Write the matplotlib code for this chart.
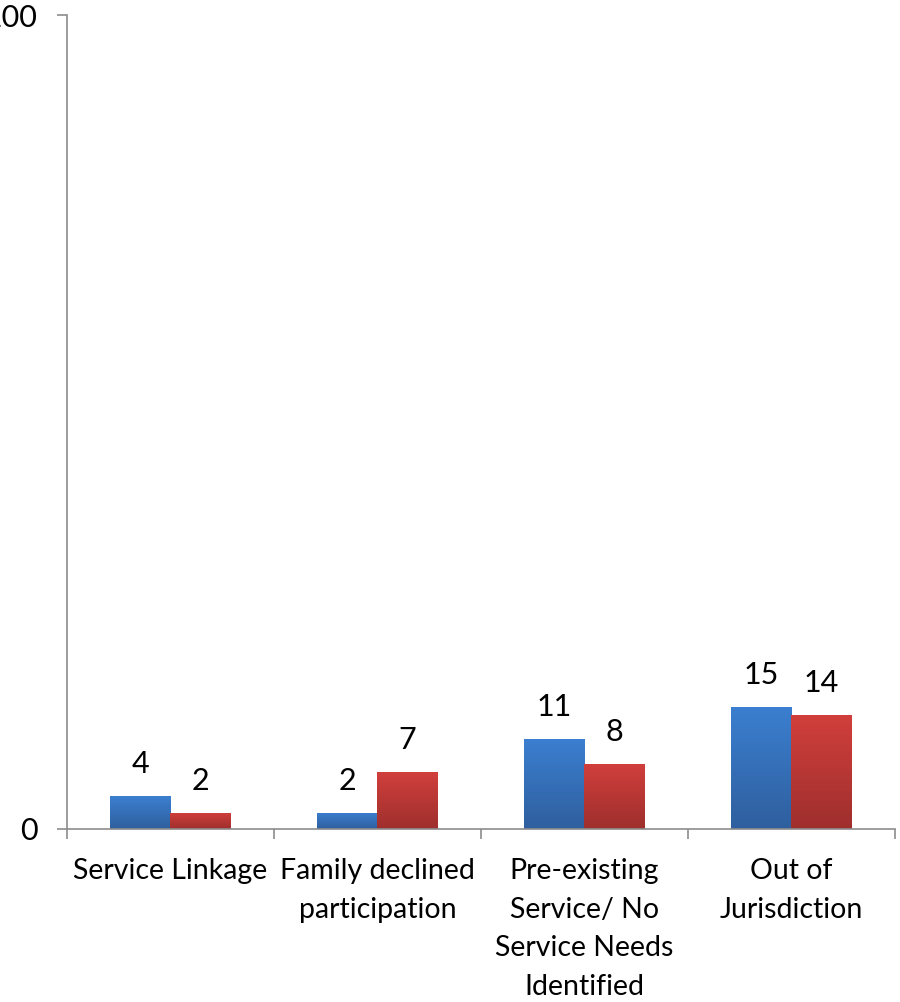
import numpy as np
from matplotlib import pyplot as plt
from matplotlib.colors import LinearSegmentedColormap

categories = ['Service Linkage', 'Family declined\nparticipation',
              'Pre-existing\nService/ No\nService Needs\nIdentified',
              'Out of\nJurisdiction']
series_a = [4, 2, 11, 15]
series_b = [2, 7, 8, 14]

plt.rcParams['font.family'] = ['Lato', 'DejaVu Sans']
FS = 20.5
FS_NUM = 22
AXIS_COLOR = '#8c8c8c'

fig = plt.figure(figsize=(9, 10.02), dpi=100)
ax = fig.add_axes([0.0744, 0.1727, 0.92, 0.8123])

x = np.arange(len(categories))
w = 0.29
bars_a = ax.bar(x - w / 2, series_a, w, color='#3a7dce')
bars_b = ax.bar(x + w / 2, series_b, w, color='#cd3d3b')

# vertical gradient like the original
grads = {
    'a': LinearSegmentedColormap.from_list('a', ['#2f5f9e', '#3b7fd0']),
    'b': LinearSegmentedColormap.from_list('b', ['#9e2f2d', '#d13f3c']),
}
grad = np.linspace(0, 1, 256).reshape(-1, 1)
for key, bars in (('a', bars_a), ('b', bars_b)):
    for b in bars:
        x0, y0 = b.get_x(), b.get_y()
        im = ax.imshow(grad, cmap=grads[key], origin='lower', aspect='auto',
                       extent=[x0, x0 + b.get_width(), y0, y0 + b.get_height()],
                       zorder=b.get_zorder() + 0.1)
        im.set_clip_path(b)

for bars, vals in ((bars_a, series_a), (bars_b, series_b)):
    for b, v in zip(bars, vals):
        ax.annotate(str(v), (b.get_x() + b.get_width() / 2, v),
                    xytext=(0, 13), textcoords='offset points',
                    ha='center', va='bottom', fontsize=FS_NUM)

ax.set_xlim(-0.5, len(categories) - 0.5)
ax.set_ylim(0, 100)
ax.set_yticks([0, 100])
ax.set_yticklabels(['0', '100'], fontsize=FS_NUM)

ax.set_xticks(np.arange(len(categories) + 1) - 0.5)
ax.set_xticklabels([])
ax.set_xticks(x, minor=True)
ax.set_xticklabels(categories, minor=True, fontsize=FS, linespacing=1.6,
                   va='top')
ax.tick_params(axis='x', which='minor', length=0, pad=21)
ax.tick_params(axis='both', which='major', length=7, width=1.2,
               color=AXIS_COLOR, direction='out')
ax.tick_params(axis='y', pad=14)

for s in ('top', 'right'):
    ax.spines[s].set_visible(False)
for s in ('left', 'bottom'):
    ax.spines[s].set_color(AXIS_COLOR)
    ax.spines[s].set_linewidth(1.2)

fig.savefig('out.png', dpi=100)
